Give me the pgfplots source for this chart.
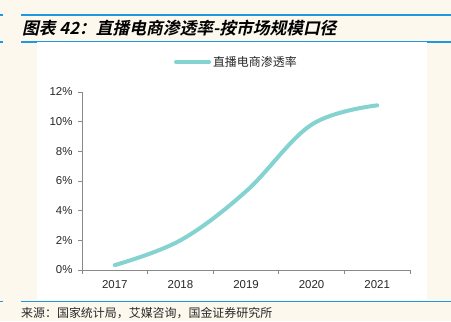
\documentclass[border=0pt]{standalone}
\usepackage{pgfplots}
\pgfplotsset{compat=1.18}
\usepackage{fontspec}
\setmainfont{Liberation Sans}
\newfontfamily\cjk{Noto Sans CJK SC}
\newfontfamily\cjktitle[FakeSlant=0.22]{Noto Sans CJK SC Bold}
\definecolor{bgcream}{RGB}{253,248,237}
\definecolor{rblue}{RGB}{30,152,222}
\definecolor{teal1}{RGB}{132,211,209}
\definecolor{axgray}{RGB}{137,137,137}
\definecolor{txt}{RGB}{40,40,40}
\begin{document}
\begin{tikzpicture}[x=1bp,y=1bp]
\fill[bgcream] (0,0) rectangle (451,321);
\useasboundingbox (0,0) rectangle (451,321);
% rules
\draw[rblue,line width=1.5bp] (0,306) -- (3,306);
\draw[rblue,line width=1.5bp] (21,306) -- (451,306);
\draw[rblue,line width=1.5bp] (0,279) -- (3,279);
\draw[rblue,line width=1.5bp] (21,279) -- (451,279);
\draw[rblue,line width=1.5bp] (0,19.5) -- (3,19.5);
\draw[rblue,line width=1.5bp] (21,19.5) -- (451,19.5);
\fill[white] (37,21) rectangle (427,279);
\node[anchor=west,inner sep=0,font=\cjktitle\fontsize{16.8}{16.8}\selectfont] at (22,293) {图表 42：直播电商渗透率-按市场规模口径};
\node[anchor=west,inner sep=0,font=\cjk\fontsize{12}{12}\selectfont,text=txt] at (21,8) {来源：国家统计局，艾媒咨询，国金证券研究所};
\begin{axis}[
  at={(82bp,51bp)}, anchor=south west,
  width=328bp, height=178bp, scale only axis,
  xmin=-0.5, xmax=4.5, ymin=0, ymax=12,
  axis x line*=bottom, axis y line*=left,
  axis line style={axgray, line width=0.8bp, -},
  xtick={0,1,2,3,4},
  xticklabels={2017,2018,2019,2020,2021},
  minor xtick={-0.5,0.5,1.5,2.5,3.5,4.5},
  major x tick style={draw=none},
  minor tick length=4bp,
  ytick={0,2,4,6,8,10,12},
  yticklabel={\pgfmathprintnumber{\tick}\%},
  tick align=outside,
  major tick length=4bp,
  tick style={axgray, line width=0.8bp},
  /pgf/number format/assume math mode=true,
  ticklabel style={font=\fontsize{11.5}{11.5}\selectfont, text=txt},
  xticklabel style={yshift=-3bp},
  yticklabel style={xshift=-2bp},
  legend style={at={(0.28,1.169)}, anchor=west, draw=none, fill=none, inner sep=0pt,
    font=\cjk\fontsize{12}{12}\selectfont, text=txt},
  legend image code/.code={\draw[#1] (0bp,0bp) -- (33bp,0bp);},
  clip=false,
]
\addplot[teal1, line width=4bp, smooth, tension=0.6, line cap=round] coordinates {
  (0,0.33) (1,2.0) (2,5.3) (3,9.8) (4,11.1)
};
\addlegendentry{直播电商渗透率}
\end{axis}
\end{tikzpicture}
\end{document}
